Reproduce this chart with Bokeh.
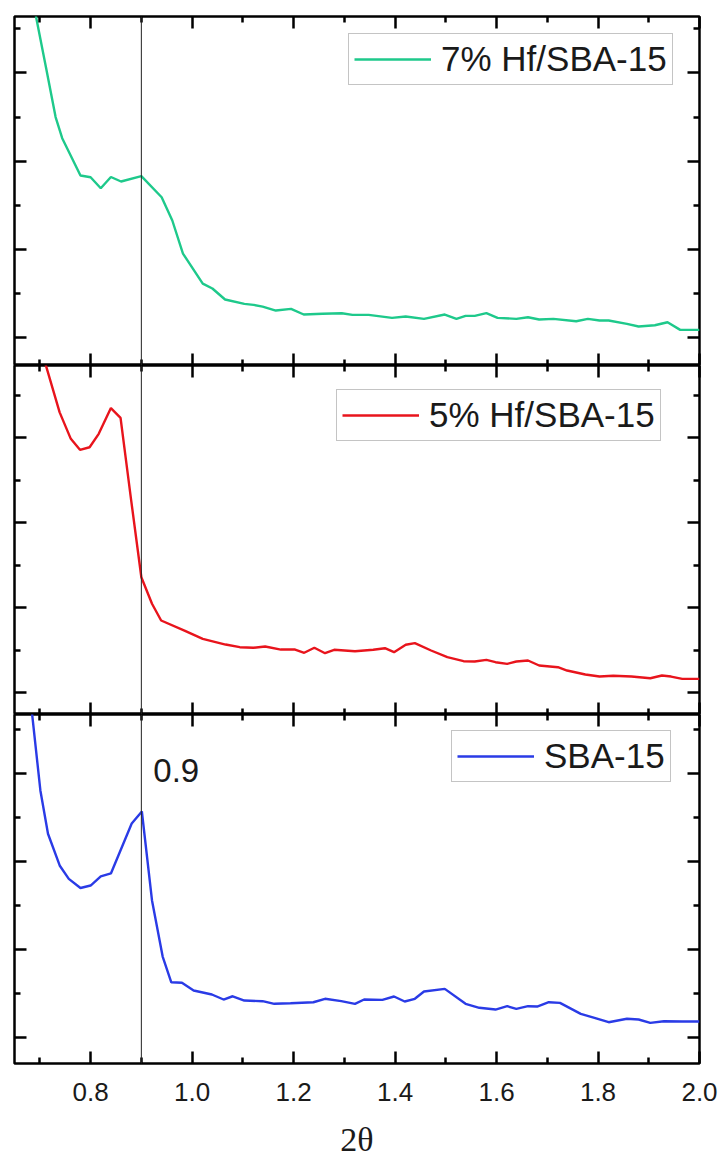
from bokeh.plotting import figure
from bokeh.models import (Span, Label, Legend, LegendItem, FixedTicker, LinearAxis,
                          Range1d, NumeralTickFormatter, CustomLabelingPolicy)
from bokeh.layouts import column
from bokeh.embed import file_html
from bokeh.resources import INLINE

# ---------------- data (2theta in degrees, intensity in arbitrary units per panel) -------------
two_theta_hf7 = [0.672, 0.692, 0.712, 0.731, 0.744, 0.780, 0.800, 0.820, 0.840, 0.860, 0.900,
                 0.940, 0.961, 0.982, 1.021, 1.040, 1.065, 1.103, 1.121, 1.139, 1.165, 1.195,
                 1.220, 1.257, 1.295, 1.316, 1.348, 1.394, 1.421, 1.457, 1.498, 1.521, 1.539,
                 1.557, 1.580, 1.602, 1.639, 1.662, 1.684, 1.712, 1.757, 1.780, 1.803, 1.821,
                 1.857, 1.880, 1.912, 1.937, 1.962, 2.000]
intensity_hf7 = [4.25, 3.65, 3.065, 2.50, 2.26, 1.837, 1.817, 1.693, 1.820, 1.769, 1.831,
                 1.591, 1.327, 0.952, 0.612, 0.556, 0.431, 0.382, 0.371, 0.351, 0.306, 0.325,
                 0.261, 0.269, 0.276, 0.257, 0.257, 0.223, 0.238, 0.212, 0.261, 0.212, 0.246,
                 0.246, 0.276, 0.223, 0.212, 0.230, 0.204, 0.212, 0.185, 0.212, 0.193, 0.193,
                 0.155, 0.125, 0.139, 0.173, 0.087, 0.087]

two_theta_hf5 = [0.690, 0.712, 0.739, 0.761, 0.779, 0.798, 0.816, 0.840, 0.859, 0.880, 0.900,
                 0.921, 0.939, 0.985, 1.021, 1.066, 1.094, 1.121, 1.144, 1.175, 1.203, 1.221,
                 1.241, 1.262, 1.280, 1.321, 1.357, 1.380, 1.398, 1.421, 1.439, 1.471, 1.503,
                 1.535, 1.557, 1.580, 1.598, 1.621, 1.639, 1.662, 1.684, 1.721, 1.739, 1.775,
                 1.803, 1.830, 1.866, 1.903, 1.926, 1.944, 1.966, 2.000]
intensity_hf5 = [4.30, 3.85, 3.30, 2.988, 2.859, 2.889, 3.047, 3.351, 3.236, 2.261, 1.358,
                 1.045, 0.848, 0.730, 0.632, 0.565, 0.534, 0.527, 0.542, 0.506, 0.506, 0.468,
                 0.527, 0.463, 0.503, 0.486, 0.503, 0.522, 0.475, 0.562, 0.581, 0.495, 0.416,
                 0.369, 0.365, 0.385, 0.357, 0.338, 0.365, 0.377, 0.318, 0.298, 0.259, 0.212,
                 0.188, 0.197, 0.188, 0.168, 0.200, 0.188, 0.161, 0.161]

two_theta_sba = [0.672, 0.685, 0.701, 0.716, 0.739, 0.757, 0.780, 0.800, 0.820, 0.840, 0.881,
                 0.901, 0.921, 0.942, 0.959, 0.980, 1.003, 1.039, 1.062, 1.080, 1.103, 1.139,
                 1.162, 1.194, 1.239, 1.262, 1.294, 1.321, 1.339, 1.375, 1.398, 1.419, 1.439,
                 1.457, 1.498, 1.539, 1.566, 1.598, 1.621, 1.639, 1.662, 1.680, 1.703, 1.725,
                 1.766, 1.793, 1.821, 1.857, 1.880, 1.903, 1.930, 1.966, 2.000]
intensity_sba = [4.35, 3.66, 2.807, 2.315, 1.955, 1.803, 1.699, 1.727, 1.830, 1.864, 2.432,
                 2.568, 1.557, 0.920, 0.628, 0.622, 0.534, 0.489, 0.432, 0.469, 0.420, 0.413,
                 0.383, 0.390, 0.401, 0.440, 0.413, 0.383, 0.432, 0.428, 0.466, 0.409, 0.440,
                 0.523, 0.553, 0.383, 0.338, 0.318, 0.356, 0.326, 0.356, 0.352, 0.401, 0.394,
                 0.269, 0.224, 0.174, 0.213, 0.205, 0.167, 0.185, 0.182, 0.182]

labels = ["7% Hf/SBA-15", "5% Hf/SBA-15", "SBA-15"]
colors = ["#1ec98b", "#e8141c", "#2a3be6"]

x_major_ticks = [0.8, 1.0, 1.2, 1.4, 1.6, 1.8, 2.0]
x_minor_ticks = [0.7, 0.9, 1.1, 1.3, 1.5, 1.7, 1.9]
y_major_ticks = [0.0, 1.0, 2.0, 3.0]
y_minor_ticks = [0.5, 1.5, 2.5, 3.5]
marker_position = 0.9

FONT = "Liberation Sans"
x_range = Range1d(0.65, 2.0)

NO_LABELS = "const ids = [...indices]; for (const i of ids) indices.unset(i); return indices;"


def style_axis(ax, ticker, show_labels=False):
    ax.ticker = ticker
    ax.major_tick_in = 12
    ax.major_tick_out = 0
    ax.minor_tick_in = 6
    ax.minor_tick_out = 0
    ax.major_tick_line_width = 2.5
    ax.minor_tick_line_width = 2.5
    ax.major_tick_line_color = "black"
    ax.minor_tick_line_color = "black"
    ax.axis_line_color = None
    if show_labels:
        ax.major_label_text_font = FONT
        ax.major_label_text_font_size = "26px"
        ax.major_label_text_color = "#1a1a1a"
        ax.major_label_standoff = 19
        ax.formatter = NumeralTickFormatter(format="0.0")
    else:
        ax.major_label_text_font_size = "0px"
        ax.major_label_standoff = 0
        ax.major_label_policy = CustomLabelingPolicy(code=NO_LABELS)


def make_panel(xs, ys, color, label, y_lo, y_hi, height, b_top, b_bottom, leg_loc,
               bottom=False):
    p = figure(width=723, height=height, x_range=x_range, y_range=Range1d(y_lo, y_hi),
               output_backend="svg", toolbar_location=None,
               x_axis_location=None, y_axis_location=None,
               min_border_left=14, min_border_right=24,
               min_border_top=b_top, min_border_bottom=b_bottom)
    p.outline_line_color = "black"
    p.outline_line_width = 2.5
    p.outline_line_alpha = 1.0
    p.xgrid.visible = False
    p.ygrid.visible = False

    xt = FixedTicker(ticks=x_major_ticks, minor_ticks=x_minor_ticks)
    yt = FixedTicker(ticks=y_major_ticks, minor_ticks=y_minor_ticks)

    ax_below = LinearAxis()
    style_axis(ax_below, xt, show_labels=bottom)
    if bottom:
        ax_below.axis_label = "2θ"
        ax_below.axis_label_text_font = "Liberation Serif"
        ax_below.axis_label_text_font_style = "normal"
        ax_below.axis_label_text_font_size = "34px"
        ax_below.axis_label_text_color = "#1a1a1a"
        ax_below.axis_label_standoff = 17
    p.add_layout(ax_below, "below")

    ax_above = LinearAxis()
    style_axis(ax_above, xt)
    p.add_layout(ax_above, "above")

    ax_left = LinearAxis()
    style_axis(ax_left, yt)
    p.add_layout(ax_left, "left")

    ax_right = LinearAxis()
    style_axis(ax_right, yt)
    p.add_layout(ax_right, "right")

    p.add_layout(Span(location=marker_position, dimension="height",
                      line_color="#222222", line_width=1))

    r = p.line(xs, ys, line_color=color, line_width=2.4)

    legend = Legend(items=[LegendItem(label=label, renderers=[r])], location=leg_loc,
                    label_text_font=FONT, label_text_font_size="35px",
                    label_text_color="#1a1a1a",
                    glyph_width=77, glyph_height=20, label_standoff=10,
                    padding=5, margin=0, spacing=0,
                    border_line_color="#8a8a8a", border_line_width=1,
                    background_fill_color="white", background_fill_alpha=1.0)
    p.add_layout(legend)
    return p


p1 = make_panel(two_theta_hf7, intensity_hf7, colors[0], labels[0],
                -0.317, 3.64, 365, 16, 0, (334, 280))
p2 = make_panel(two_theta_hf5, intensity_hf5, colors[1], labels[1],
                -0.259, 3.852, 349, 0, 0, (322, 273))
p3 = make_panel(two_theta_sba, intensity_sba, colors[2], labels[2],
                -0.295, 3.67, 447, 0, 98, (437, 281), bottom=True)

p3.add_layout(Label(x=marker_position, x_offset=12, y=3.03, text="0.9",
                    text_font=FONT, text_font_size="33px", text_color="#1a1a1a",
                    text_baseline="alphabetic"))

layout = column(p1, p2, p3, spacing=0)
open("out.html", "w").write(file_html(layout, INLINE))
